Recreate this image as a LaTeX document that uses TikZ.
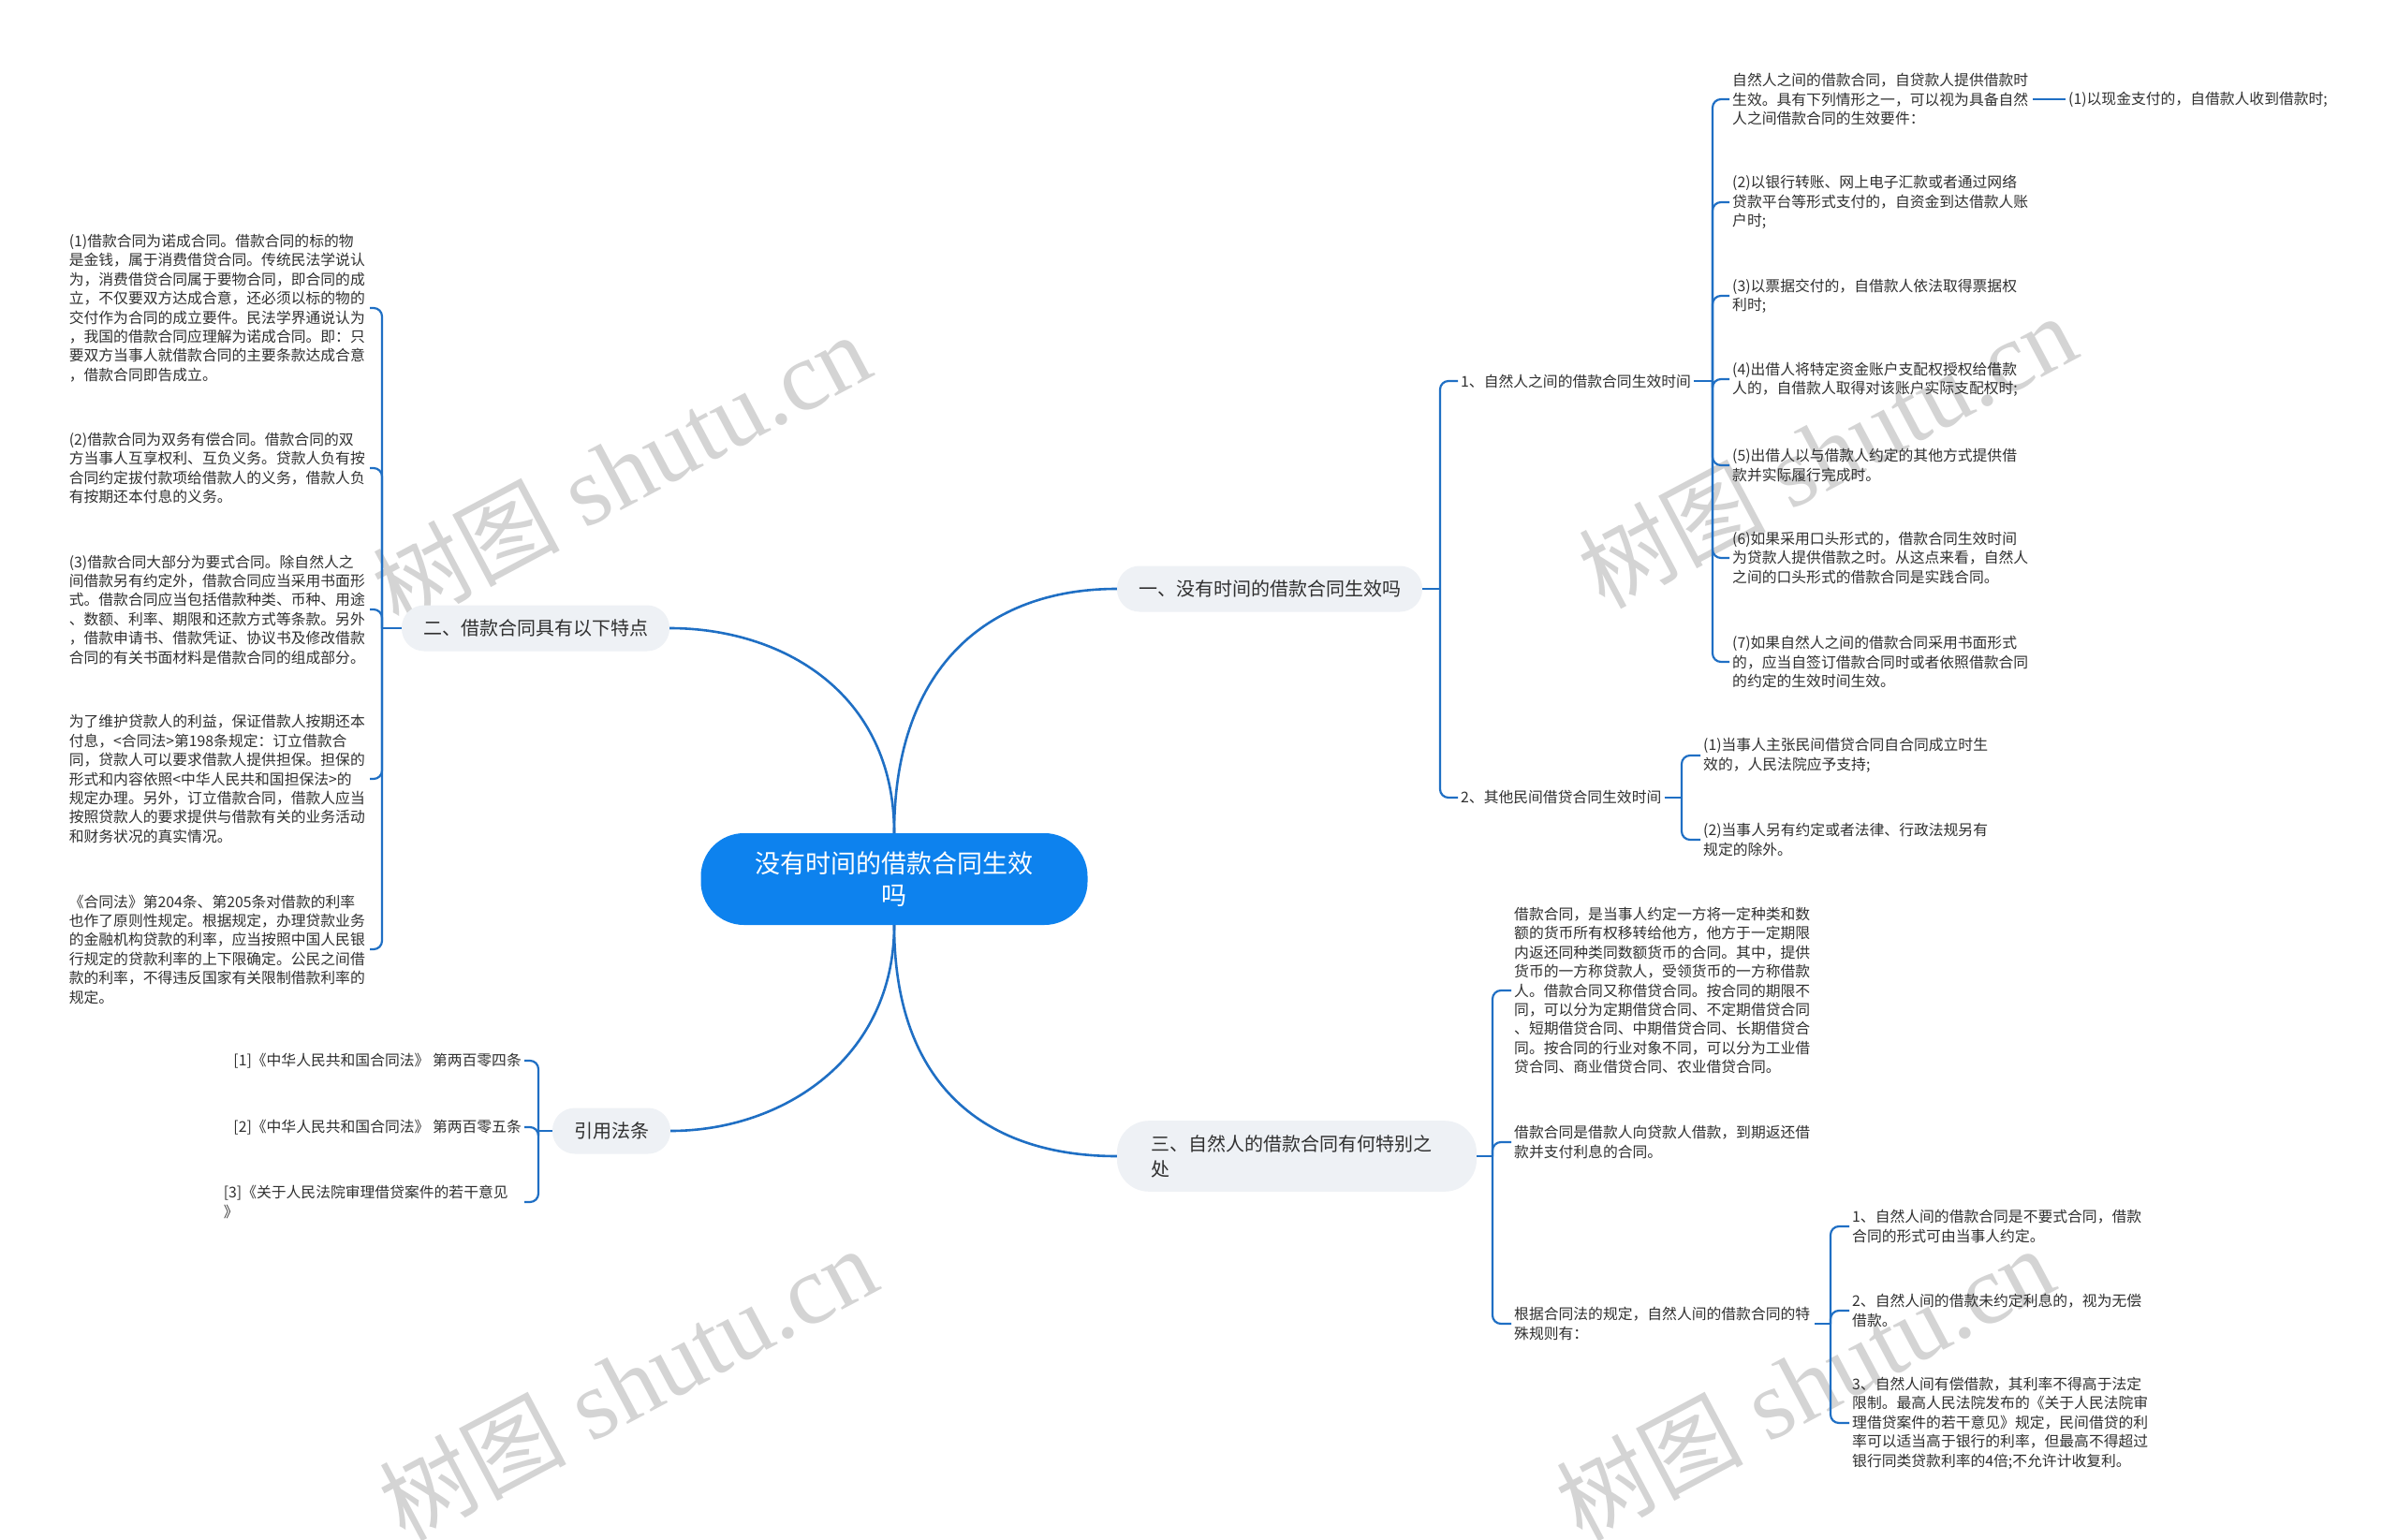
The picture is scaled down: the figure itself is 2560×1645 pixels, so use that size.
\documentclass[tikz,border=0pt]{standalone}
\usepackage{fontspec}
\setmainfont{Noto Sans CJK SC}
\newfontfamily\wmserif{Liberation Serif}
\newfontfamily\wmcjk{Noto Sans CJK SC}
\definecolor{lineblue}{HTML}{1F6FC4}
\definecolor{rootblue}{HTML}{0D82EE}
\definecolor{topicgray}{HTML}{EEF1F5}
\definecolor{txt}{HTML}{303030}
\definecolor{wmgray}{HTML}{D4D4D4}
\newcommand{\rbrk}[3]{\draw[br] (#1.east) -- (#1.east -| #2); \draw[br, rounded corners=9pt] (#1.east -| #2) -- (#3.west -| #2) -- (#3.west);}
\newcommand{\lbrk}[3]{\draw[br] (#1.west) -- (#1.west -| #2); \draw[br, rounded corners=9pt] (#1.west -| #2) -- (#3.east -| #2) -- (#3.east);}
\newcommand{\wmtext}{{\wmcjk\fontsize{100}{100}\selectfont 树图}{\wmserif\fontsize{105}{105}\selectfont\ shutu.cn}}
\begin{document}
\begin{tikzpicture}[x=1pt,y=-1pt,
  main/.style={draw=lineblue, line width=2.6pt},
  br/.style={draw=lineblue, line width=2.2pt},
  rootbox/.style={fill=rootblue, draw=none, rounded corners=46pt, minimum width=413pt, minimum height=98pt, align=center, text=white, font=\fontsize{27}{34}\selectfont, inner sep=0pt},
  topic/.style={fill=topicgray, rounded corners=24pt, minimum height=49pt, inner xsep=23pt, inner ysep=0pt, font=\fontsize{20}{27}\selectfont, text=txt},
  subt/.style={font=\fontsize{15.8}{20.4}\selectfont, text=txt, inner sep=3pt},
  leaf/.style={subt, text width=318pt, align=left},
  wm/.style={text=wmgray, rotate=28, inner sep=0pt}
]
\useasboundingbox (0,0) rectangle (2560,1645);
\fill[white] (0,0) rectangle (2560,1645);

% watermarks
\node[wm] (w1) at (663,502) {\wmtext};
\node[wm] (w2) at (1951,482) {\wmtext};
\node[wm] (w3) at (670,1478) {\wmtext};
\node[wm] (w4) at (1927,1478) {\wmtext};

% bracket x positions
\coordinate (k1) at (1538,0);
\coordinate (k11) at (1829,0);
\coordinate (k12) at (1796,0);
\coordinate (k3) at (1594,0);
\coordinate (k33) at (1955,0);
\coordinate (k2) at (408,0);
\coordinate (k4) at (575,0);

% root and topics
\node[rootbox] (root) at (955,939) {没有时间的借款合同生效\\吗};
\node[topic] (t1) at (1356,629) {一、没有时间的借款合同生效吗};
\node[topic] (t2) at (572,671) {二、借款合同具有以下特点};
\node[topic] (t4) at (653,1208) {引用法条};
\node[topic, rounded corners=34pt, text width=312pt, align=left, inner xsep=36pt, inner ysep=15pt] (t3) at (1385,1235) {三、自然人的借款合同有何特别之\\处};

\draw[main] (root.north) .. controls +(0,-175) and +(-140,0) .. (t1.west);
\draw[main] (root.north) .. controls +(0,-150) and +(120,0) .. (t2.east);
\draw[main] (root.south) .. controls +(0,172) and +(-140,0) .. (t3.west);
\draw[main] (root.south) .. controls +(0,142) and +(120,0) .. (t4.east);

% branch one
\node[subt, anchor=west] (s1) at (1557,407) {1、自然人之间的借款合同生效时间};
\node[subt, anchor=west] (s2) at (1557,852) {2、其他民间借贷合同生效时间};
\rbrk{t1}{k1}{s1}
\rbrk{t1}{k1}{s2}

\node[leaf, anchor=west] (l1) at (1847,106) {自然人之间的借款合同，自贷款人提供借款时\\生效。具有下列情形之一，可以视为具备自然\\人之间借款合同的生效要件：};
\node[subt, anchor=west] (l1a) at (2206,106) {(1)以现金支付的，自借款人收到借款时;};
\node[leaf, anchor=west] (l2) at (1847,216) {(2)以银行转账、网上电子汇款或者通过网络\\贷款平台等形式支付的，自资金到达借款人账\\户时;};
\node[leaf, anchor=west] (l3) at (1847,316) {(3)以票据交付的，自借款人依法取得票据权\\利时;};
\node[leaf, anchor=west] (l4) at (1847,405) {(4)出借人将特定资金账户支配权授权给借款\\人的，自借款人取得对该账户实际支配权时;};
\node[leaf, anchor=west] (l5) at (1847,497) {(5)出借人以与借款人约定的其他方式提供借\\款并实际履行完成时。};
\node[leaf, anchor=west] (l6) at (1847,596) {(6)如果采用口头形式的，借款合同生效时间\\为贷款人提供借款之时。从这点来看，自然人\\之间的口头形式的借款合同是实践合同。};
\node[leaf, anchor=west] (l7) at (1847,707) {(7)如果自然人之间的借款合同采用书面形式\\的，应当自签订借款合同时或者依照借款合同\\的约定的生效时间生效。};
\rbrk{s1}{k11}{l1}
\rbrk{s1}{k11}{l2}
\rbrk{s1}{k11}{l3}
\rbrk{s1}{k11}{l4}
\rbrk{s1}{k11}{l5}
\rbrk{s1}{k11}{l6}
\rbrk{s1}{k11}{l7}
\draw[br] (l1.east) -- (l1a.west);

\node[leaf, anchor=west] (m1) at (1816,807) {(1)当事人主张民间借贷合同自合同成立时生\\效的，人民法院应予支持;};
\node[leaf, anchor=west] (m2) at (1816,897) {(2)当事人另有约定或者法律、行政法规另有\\规定的除外。};
\rbrk{s2}{k12}{m1}
\rbrk{s2}{k12}{m2}

% branch three
\node[leaf, anchor=west] (p1) at (1614,1058) {借款合同，是当事人约定一方将一定种类和数\\额的货币所有权移转给他方，他方于一定期限\\内返还同种类同数额货币的合同。其中，提供\\货币的一方称贷款人，受领货币的一方称借款\\人。借款合同又称借贷合同。按合同的期限不\\同，可以分为定期借贷合同、不定期借贷合同\\、短期借贷合同、中期借贷合同、长期借贷合\\同。按合同的行业对象不同，可以分为工业借\\贷合同、商业借贷合同、农业借贷合同。};
\node[leaf, anchor=west] (p2) at (1614,1220) {借款合同是借款人向贷款人借款，到期返还借\\款并支付利息的合同。};
\node[leaf, anchor=west] (p3) at (1614,1414) {根据合同法的规定，自然人间的借款合同的特\\殊规则有：};
\rbrk{t3}{k3}{p1}
\rbrk{t3}{k3}{p2}
\rbrk{t3}{k3}{p3}

\node[leaf, anchor=west] (q1) at (1975,1310) {1、自然人间的借款合同是不要式合同，借款\\合同的形式可由当事人约定。};
\node[leaf, anchor=west] (q2) at (1975,1400) {2、自然人间的借款未约定利息的，视为无偿\\借款。};
\node[leaf, anchor=west] (q3) at (1975,1520) {3、自然人间有偿借款，其利率不得高于法定\\限制。最高人民法院发布的《关于人民法院审\\理借贷案件的若干意见》规定，民间借贷的利\\率可以适当高于银行的利率，但最高不得超过\\银行同类贷款利率的4倍;不允许计收复利。};
\rbrk{p3}{k33}{q1}
\rbrk{p3}{k33}{q2}
\rbrk{p3}{k33}{q3}

% branch two (left)
\node[leaf, anchor=east] (a1) at (395,329) {(1)借款合同为诺成合同。借款合同的标的物\\是金钱，属于消费借贷合同。传统民法学说认\\为，消费借贷合同属于要物合同，即合同的成\\立，不仅要双方达成合意，还必须以标的物的\\交付作为合同的成立要件。民法学界通说认为\\，我国的借款合同应理解为诺成合同。即：只\\要双方当事人就借款合同的主要条款达成合意\\，借款合同即告成立。};
\node[leaf, anchor=east] (a2) at (395,500) {(2)借款合同为双务有偿合同。借款合同的双\\方当事人互享权利、互负义务。贷款人负有按\\合同约定拔付款项给借款人的义务，借款人负\\有按期还本付息的义务。};
\node[leaf, anchor=east] (a3) at (395,651) {(3)借款合同大部分为要式合同。除自然人之\\间借款另有约定外，借款合同应当采用书面形\\式。借款合同应当包括借款种类、币种、用途\\、数额、利率、期限和还款方式等条款。另外\\，借款申请书、借款凭证、协议书及修改借款\\合同的有关书面材料是借款合同的组成部分。};
\node[leaf, anchor=east] (a4) at (395,832) {为了维护贷款人的利益，保证借款人按期还本\\付息，<合同法>第198条规定：订立借款合\\同，贷款人可以要求借款人提供担保。担保的\\形式和内容依照<中华人民共和国担保法>的\\规定办理。另外，订立借款合同，借款人应当\\按照贷款人的要求提供与借款有关的业务活动\\和财务状况的真实情况。};
\node[leaf, anchor=east] (a5) at (395,1014) {《合同法》第204条、第205条对借款的利率\\也作了原则性规定。根据规定，办理贷款业务\\的金融机构贷款的利率，应当按照中国人民银\\行规定的贷款利率的上下限确定。公民之间借\\款的利率，不得违反国家有关限制借款利率的\\规定。};
\lbrk{t2}{k2}{a1}
\lbrk{t2}{k2}{a2}
\lbrk{t2}{k2}{a3}
\lbrk{t2}{k2}{a4}
\lbrk{t2}{k2}{a5}

% citations (left)
\node[subt, anchor=east] (c1) at (560,1133) {[1]《中华人民共和国合同法》 第两百零四条};
\node[subt, anchor=east] (c2) at (560,1204) {[2]《中华人民共和国合同法》 第两百零五条};
\node[leaf, anchor=east] (c3) at (560,1284) {[3]《关于人民法院审理借贷案件的若干意见\\》};
\lbrk{t4}{k4}{c1}
\lbrk{t4}{k4}{c2}
\lbrk{t4}{k4}{c3}
\end{tikzpicture}
\end{document}
